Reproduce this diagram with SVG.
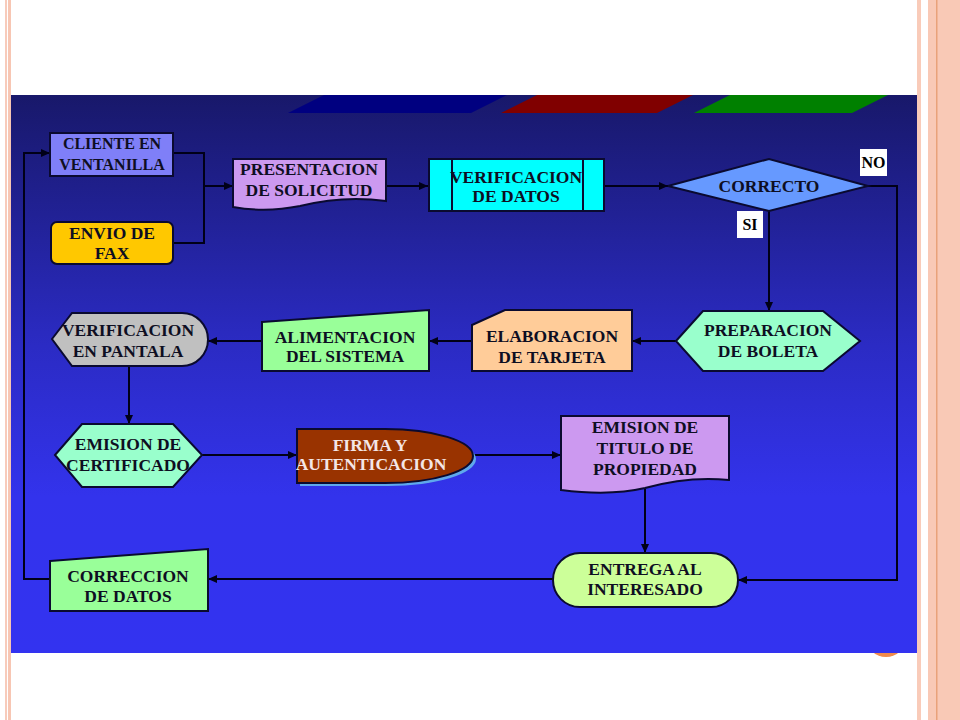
<svg xmlns="http://www.w3.org/2000/svg" width="960" height="720" viewBox="0 0 960 720">
<defs>
<linearGradient id="bg" x1="0" y1="0" x2="0" y2="1">
<stop offset="0" stop-color="#18186a"/>
<stop offset="0.45" stop-color="#2b2bc4"/>
<stop offset="0.72" stop-color="#3333ec"/>
<stop offset="1" stop-color="#3333f0"/>
</linearGradient>
<marker id="ah" markerUnits="userSpaceOnUse" markerWidth="10" markerHeight="8" refX="9" refY="4" orient="auto">
<path d="M0,0 L9,4 L0,8 z" fill="#000018"/>
</marker>
<style>
.n{stroke:#0a0a30;stroke-width:2}
.t{font-family:"Liberation Serif","Times New Roman",serif;font-weight:bold;font-size:17.5px;fill:#0e0e22;text-anchor:middle}
.w{fill:#f4e6e6}
.c{fill:none;stroke:#000018;stroke-width:2}
.a{marker-end:url(#ah)}
</style>
</defs>
<rect x="0" y="0" width="960" height="720" fill="#ffffff"/>
<!-- page decoration -->
<rect x="5" y="0" width="2" height="720" fill="#f7cbbb"/>
<rect x="8" y="0" width="3" height="720" fill="#f7c6b3"/>
<rect x="917" y="0" width="4" height="720" fill="#f9cbb9"/>
<rect x="928" y="0" width="32" height="720" fill="#f9c9b6"/>
<rect x="936" y="0" width="1.5" height="720" fill="#e9a27a"/>
<circle cx="886" cy="637" r="20" fill="#f08a4b"/>
<!-- panel -->
<rect x="11" y="95" width="906" height="558" fill="url(#bg)"/>
<polygon points="324,95 507,95 471,113 288,113" fill="#000080"/>
<polygon points="537,95 693,95 657,113 501,113" fill="#800000"/>
<polygon points="730,95 888,95 852,113 694,113" fill="#008000"/>

<g id="connectors">
<path class="c" d="M173,153 H204 V243 H173"/>
<path class="c a" d="M204,186 H233"/>
<path class="c a" d="M386,186 H428"/>
<path class="c a" d="M604,186 H668"/>
<path class="c a" d="M868,186 H897 V580 H738"/>
<path class="c a" d="M769,211 V311"/>
<path class="c a" d="M676,341 H632"/>
<path class="c a" d="M472,341 H429"/>
<path class="c a" d="M261,341 H208"/>
<path class="c a" d="M129,366 V424"/>
<path class="c a" d="M202,455 H297"/>
<path class="c a" d="M473,455 H561"/>
<path class="c a" d="M645,489 V553"/>
<path class="c a" d="M553,579 H208"/>
<path class="c a" d="M50,579 H24 V153 H50"/>
</g>

<g id="cliente">
<rect class="n" x="50" y="133" width="123" height="43" fill="#7f7ff8"/>
<text class="t" style="font-size:16px" x="112" y="149">CLIENTE EN</text>
<text class="t" style="font-size:16px" x="112" y="170">VENTANILLA</text>
</g>
<g id="fax">
<rect class="n" x="51" y="222" width="122" height="42" rx="6" fill="#ffc800"/>
<text class="t" x="112" y="239">ENVIO DE</text>
<text class="t" x="112" y="259">FAX</text>
</g>
<g id="presentacion">
<path class="n" d="M233,159 H386 V201 C350,196 320,201 300,206 C275,211 250,210 233,207 Z" fill="#cc99f0"/>
<text class="t" x="309" y="175">PRESENTACION</text>
<text class="t" x="309" y="196">DE SOLICITUD</text>
</g>
<g id="verificacion-datos">
<rect class="n" x="429" y="159" width="175" height="52" fill="#00ffff"/>
<line class="n" x1="452" y1="159" x2="452" y2="211"/>
<line class="n" x1="583" y1="159" x2="583" y2="211"/>
<text class="t" x="516" y="183">VERIFICACION</text>
<text class="t" x="516" y="202">DE DATOS</text>
</g>
<g id="correcto">
<polygon class="n" points="668,186 769,159 868,186 769,211" fill="#6699ff"/>
<text class="t" x="769" y="192">CORRECTO</text>
</g>
<g id="label-no">
<rect x="860" y="149" width="27" height="27" fill="#ffffff"/>
<text class="t" style="font-size:16px;fill:#000" x="873.5" y="168">NO</text>
</g>
<g id="label-si">
<rect x="737" y="211" width="26" height="27" fill="#ffffff"/>
<text class="t" style="font-size:16px;fill:#000" x="750" y="230">SI</text>
</g>
<g id="preparacion">
<polygon class="n" points="676,341 703,311 823,311 860,341 823,371 703,371" fill="#99ffcc"/>
<text class="t" x="768" y="336">PREPARACION</text>
<text class="t" x="768" y="357">DE BOLETA</text>
</g>
<g id="elaboracion">
<path class="n" d="M472,325 L505,310 H632 V371 H472 Z" fill="#ffcc99"/>
<text class="t" x="552" y="342">ELABORACION</text>
<text class="t" x="552" y="363">DE TARJETA</text>
</g>
<g id="alimentacion">
<path class="n" d="M262,322 L429,310 V371 H262 Z" fill="#99ff99"/>
<text class="t" x="345" y="343">ALIMENTACION</text>
<text class="t" x="345" y="362">DEL SISTEMA</text>
</g>
<g id="verificacion-pantalla">
<path class="n" d="M52,339 L72,313 H182 A26,26.5 0 0 1 182,366 H72 Z" fill="#c0c0c0"/>
<text class="t" x="128" y="336">VERIFICACION</text>
<text class="t" x="128" y="357">EN PANTALA</text>
</g>
<g id="certificado">
<polygon class="n" points="55,455 82,424 173,424 202,455 173,487 82,487" fill="#99ffcc"/>
<text class="t" x="128" y="450">EMISION DE</text>
<text class="t" x="128" y="471">CERTIFICADO</text>
</g>
<g id="firma">
<path d="M300,432 H388 A88,27 0 0 1 388,486 H300 Z" fill="#5fa8ec"/>
<path class="n" d="M297,429 H385 A88,27 0 0 1 385,483 H297 Z" fill="#993300"/>
<text class="t w" x="370" y="451">FIRMA Y</text>
<text class="t w" x="371" y="470">AUTENTICACION</text>
</g>
<g id="titulo">
<path class="n" d="M561,416 H729 V480 C700,477 670,481 645,488 C615,495 585,493 561,490 Z" fill="#cc99f0"/>
<text class="t" x="645" y="433">EMISION DE</text>
<text class="t" x="645" y="454">TITULO DE</text>
<text class="t" x="645" y="475">PROPIEDAD</text>
</g>
<g id="entrega">
<rect class="n" x="553" y="553" width="185" height="54" rx="27" fill="#ccff99"/>
<text class="t" x="645" y="575">ENTREGA AL</text>
<text class="t" x="645" y="595">INTERESADO</text>
</g>
<g id="correccion">
<path class="n" d="M50,561 L208,549 V611 H50 Z" fill="#99ff99"/>
<text class="t" x="128" y="582">CORRECCION</text>
<text class="t" x="128" y="602">DE DATOS</text>
</g>
</svg>
